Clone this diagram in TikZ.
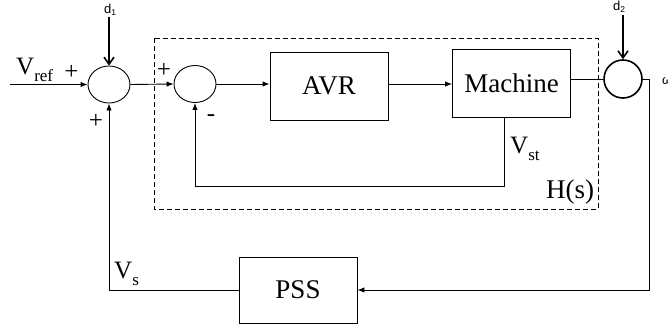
\documentclass[tikz,border=0pt]{standalone}
\usepackage{fontspec}
\setmainfont{Liberation Serif}
\newfontfamily\sansf{Liberation Sans}
\usetikzlibrary{shapes.geometric,arrows.meta}
\newcommand{\lowsub}[1]{\raisebox{-0.28em}{\fontsize{17}{17}\selectfont #1}}
\newcommand{\dsub}[1]{\raisebox{-2pt}{\fontsize{8.5}{8.5}\selectfont #1}}
\begin{document}
\begin{tikzpicture}[x=1pt,y=-1pt,
  blk/.style={draw, line width=0.9pt, minimum width=118pt, minimum height=68pt, inner sep=0pt, font=\fontsize{27}{27}\selectfont},
  sumb/.style={draw, ellipse, minimum width=42pt, minimum height=37pt, inner sep=0pt, line width=0.9pt},
  sumc/.style={draw, circle, minimum size=38pt, inner sep=0pt, line width=1.6pt},
  conn/.style={line width=0.9pt},
  arr/.style={conn, -{Latex[length=7pt,width=5.5pt]}},
  darr/.style={line width=1.6pt, -{Straight Barb[length=7pt,width=10pt]}},
  lbl/.style={font=\fontsize{25}{25}\selectfont, inner sep=0pt},
  sgn/.style={font=\fontsize{25}{25}\selectfont, inner sep=0pt},
  dlab/.style={font=\sansf\fontsize{13}{13}\selectfont, inner sep=0pt},
  hbox/.style={draw, dashed, dash pattern=on 5pt off 3pt, line width=0.8pt}
]
\useasboundingbox (0,0) rectangle (668,326);

% dashed H(s) region
\draw[hbox] (154,38) rectangle (598,209);

% blocks
\node[sumb] (c1) at (109,84.5) {};
\node[sumb] (c2) at (195,84) {};
\node[blk] (avr) at (329,86) {AVR};
\node[blk] (mach) at (511.5,83) {Machine};
\node[sumc] (c3) at (623,79) {};
\node[blk, minimum height=66pt] (pss) at (298,290) {PSS};

% free ends
\coordinate (vin) at (10,84.5);
\coordinate (d1s) at (109,17);
\coordinate (d2s) at (623,15);
\coordinate (fb) at (504,186);

% connectors
\draw[arr] (vin) -- (c1.west);
\draw[darr] (d1s) -- (c1.north);
\draw[arr] (c1.east) -- (c2.west);
\draw[arr] (c2.east) -- (c2.east -| avr.west);
\draw[arr] (avr.east |- c2.east) -- (mach.west |- c2.east);
\draw[conn] (mach.east |- c3.west) -- (c3.west);
\draw[darr] (d2s) -- (c3.north);
\draw[arr] (c3.east) -- ++(7,0) |- (pss.east);
\draw[arr] (pss.west) -| (c1.south);
\draw[arr] (mach.south -| fb) -- (fb) -| (c2.south);

% labels
\node[lbl, anchor=base west] (vref) at (16,75) {V\lowsub{ref}};
\node[sgn] (p1) at (71.5,72) {+};
\node[sgn] (p2) at (96,121) {+};
\node[sgn] (p3) at (164,70) {+};
\node[sgn] (m1) at (211,118) {-};
\node[dlab] (d1) at (110,10) {d\dsub{1}};
\node[dlab] (d2) at (619,7) {d\dsub{2}};
\node[lbl, anchor=base west] (vst) at (510,153) {V\lowsub{st}};
\node[font=\fontsize{27}{27}\selectfont, inner sep=0pt] (hs) at (570,192) {H(s)};
\node[lbl, anchor=base west] (vs) at (114,278) {V\lowsub{s}};
\node[dlab, anchor=west] (w) at (662,81) {ω};
\end{tikzpicture}
\end{document}
